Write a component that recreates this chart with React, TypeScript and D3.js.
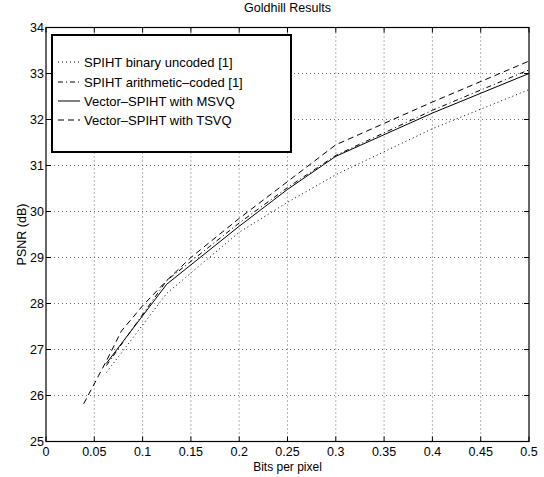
import React from "react";
import * as d3 from "d3";

// rates in bits per pixel, PSNR in dB
const binaryRates = [0.0625, 0.125, 0.2, 0.25, 0.3, 0.4, 0.5];
const binaryPsnr = [26.5, 28.22, 29.55, 30.2, 30.8, 31.8, 32.65];

const arithRates = [0.0625, 0.125, 0.2, 0.25, 0.3, 0.4, 0.5];
const arithPsnr = [26.65, 28.5, 29.75, 30.52, 31.22, 32.2, 33.08];

const msvqRates = [0.0625, 0.125, 0.2, 0.25, 0.3, 0.4, 0.5];
const msvqPsnr = [26.7, 28.42, 29.68, 30.48, 31.2, 32.14, 33.0];

const tsvqRates = [0.039, 0.0625, 0.078, 0.1, 0.125, 0.15, 0.2, 0.25, 0.3, 0.4, 0.5];
const tsvqPsnr = [25.82, 26.75, 27.4, 27.95, 28.5, 29.0, 29.85, 30.65, 31.45, 32.38, 33.27];

const xTicks = [0, 0.05, 0.1, 0.15, 0.2, 0.25, 0.3, 0.35, 0.4, 0.45, 0.5];
const yTicks = [25, 26, 27, 28, 29, 30, 31, 32, 33, 34];

const seriesNames = [
  "SPIHT binary uncoded [1]",
  "SPIHT arithmetic\u2013coded [1]",
  "Vector\u2013SPIHT with MSVQ",
  "Vector\u2013SPIHT with TSVQ",
];

const W = 544;
const H = 477;
const margin = { top: 27.5, right: 15, bottom: 35.5, left: 46 };
const font = "'Liberation Sans', Arial, Helvetica, sans-serif";

const dashes = ["1,3", "5,3,1,3", "none", "6,4"];

export default function App() {
  const x = d3
    .scaleLinear()
    .domain([0, 0.5])
    .range([margin.left, W - margin.right]);
  const y = d3
    .scaleLinear()
    .domain([25, 34])
    .range([H - margin.bottom, margin.top]);

  const line = d3
    .line<[number, number]>()
    .x((d) => x(d[0]))
    .y((d) => y(d[1]));

  const series = [
    d3.zip(binaryRates, binaryPsnr),
    d3.zip(arithRates, arithPsnr),
    d3.zip(msvqRates, msvqPsnr),
    d3.zip(tsvqRates, tsvqPsnr),
  ] as [number, number][][];

  const x0 = x(0);
  const x1 = x(0.5);
  const y0 = y(25);
  const y1 = y(34);
  const tick = 5;

  // legend box
  const lg = { x: 52, y: 35, w: 239, h: 117 };
  const rowY = [62, 82, 101, 120];

  return (
    <svg
      width={W}
      height={H}
      style={{ position: "absolute", left: 0, top: 0, background: "#fff" }}
      fontFamily={font}
    >
      <rect width={W} height={H} fill="#fff" />
      <text x={(x0 + x1) / 2} y={11.5} textAnchor="middle" fontSize={12.5}>
        Goldhill Results
      </text>

      {/* grid */}
      <g stroke="#444" strokeWidth={0.8} strokeDasharray="1,3">
        {xTicks.slice(1, -1).map((t) => (
          <line key={"gx" + t} x1={x(t)} x2={x(t)} y1={y0} y2={y1} />
        ))}
        {yTicks.slice(1, -1).map((t) => (
          <line key={"gy" + t} x1={x0} x2={x1} y1={y(t)} y2={y(t)} />
        ))}
      </g>

      {/* series */}
      <g fill="none" stroke="#000" strokeWidth={1}>
        {series.map((s, i) => (
          <path
            key={i}
            d={line(s) || ""}
            strokeDasharray={dashes[i]}
          />
        ))}
      </g>

      {/* box + ticks */}
      <rect
        x={x0}
        y={y1}
        width={x1 - x0}
        height={y0 - y1}
        fill="none"
        stroke="#000"
        strokeWidth={1.2}
      />
      <g stroke="#000" strokeWidth={1}>
        {xTicks.map((t) => (
          <g key={"tx" + t}>
            <line x1={x(t)} x2={x(t)} y1={y0} y2={y0 - tick} />
            <line x1={x(t)} x2={x(t)} y1={y1} y2={y1 + tick} />
          </g>
        ))}
        {yTicks.map((t) => (
          <g key={"ty" + t}>
            <line x1={x0} x2={x0 + tick} y1={y(t)} y2={y(t)} />
            <line x1={x1} x2={x1 - tick} y1={y(t)} y2={y(t)} />
          </g>
        ))}
      </g>

      {/* tick labels */}
      <g fontSize={12.5} fill="#000">
        {xTicks.map((t) => (
          <text key={"lx" + t} x={x(t)} y={y0 + 14} textAnchor="middle">
            {d3.format("~g")(t)}
          </text>
        ))}
        {yTicks.map((t) => (
          <text key={"ly" + t} x={x0 - 2} y={y(t) + 4.5} textAnchor="end">
            {t}
          </text>
        ))}
      </g>

      <text
        x={(x0 + x1) / 2}
        y={471}
        textAnchor="middle"
        fontSize={12}
      >
        Bits per pixel
      </text>
      <text
        transform={`translate(${26},${(y0 + y1) / 2}) rotate(-90)`}
        textAnchor="middle"
        fontSize={12.5}
      >
        PSNR (dB)
      </text>

      {/* legend */}
      <rect
        x={lg.x}
        y={lg.y}
        width={lg.w}
        height={lg.h}
        fill="#fff"
        stroke="#000"
        strokeWidth={2}
      />
      {seriesNames.map((name, i) => (
        <g key={name}>
          <line
            x1={58}
            x2={80}
            y1={rowY[i]}
            y2={rowY[i]}
            stroke="#000"
            strokeWidth={1}
            strokeDasharray={dashes[i]}
          />
          <text x={84} y={rowY[i] + 4.5} fontSize={13}>
            {name}
          </text>
        </g>
      ))}
    </svg>
  );
}
